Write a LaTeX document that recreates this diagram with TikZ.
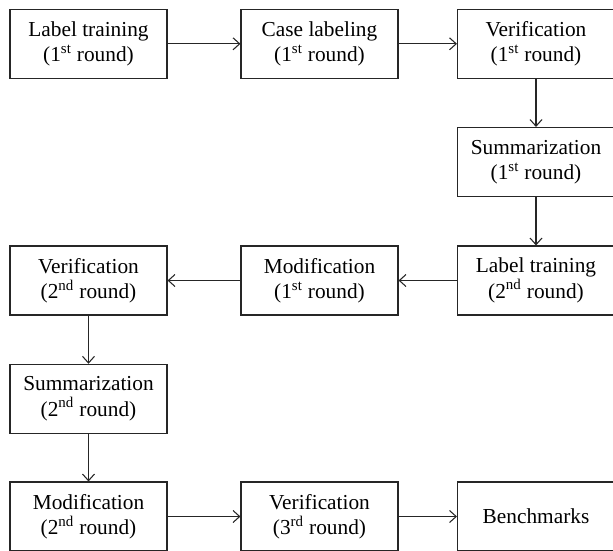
\documentclass[tikz,border=0pt]{standalone}
\usepackage{fontspec}
\setmainfont{Liberation Serif}
\usetikzlibrary{arrows.meta}

\begin{document}
\begin{tikzpicture}[x=0.75pt, y=-0.75pt,
    stage/.style={draw=black!85, line width=0.8pt, minimum width=117.75pt, minimum height=51.75pt,
        inner sep=0pt, align=center, font=\fontsize{16}{19}\selectfont},
    flow/.style={draw=black!85, line width=0.8pt, -{Straight Barb[length=5pt,width=9pt]}}]
            \useasboundingbox (0,0) rectangle (613,550);

            % first row
            \node[stage] (lt1) at (88.5,43.8) {Label training\\(1\textsuperscript{st} round)};
            \node[stage] (cl1) at (319.5,43.8) {Case labeling\\(1\textsuperscript{st} round)};
            \node[stage] (ver1) at (536,43.8) {Verification\\(1\textsuperscript{st} round)};
            \node[stage] (sum1) at (536,162) {Summarization\\(1\textsuperscript{st} round)};

            % back to the left
            \node[stage] (lt2) at (536,280.5) {Label training\\(2\textsuperscript{nd} round)};
            \node[stage] (mod1) at (319.5,280.5) {Modification\\(1\textsuperscript{st} round)};
            \node[stage] (ver2) at (88.5,280.5) {Verification\\(2\textsuperscript{nd} round)};
            \node[stage] (sum2) at (88.5,398.8) {Summarization\\(2\textsuperscript{nd} round)};

            % last row
            \node[stage] (mod2) at (88.5,516.5) {Modification\\(2\textsuperscript{nd} round)};
            \node[stage] (ver3) at (319.5,516.5) {Verification\\(3\textsuperscript{rd} round)};
            \node[stage] (bench) at (536,516.5) {Benchmarks};

            \draw[flow] (lt1) -- (cl1);
            \draw[flow] (cl1) -- (ver1);
            \draw[flow] (ver1) -- (sum1);
            \draw[flow] (sum1) -- (lt2);
            \draw[flow] (lt2) -- (mod1);
            \draw[flow] (mod1) -- (ver2);
            \draw[flow] (ver2) -- (sum2);
            \draw[flow] (sum2) -- (mod2);
            \draw[flow] (mod2) -- (ver3);
            \draw[flow] (ver3) -- (bench);
        \end{tikzpicture}
\end{document}
